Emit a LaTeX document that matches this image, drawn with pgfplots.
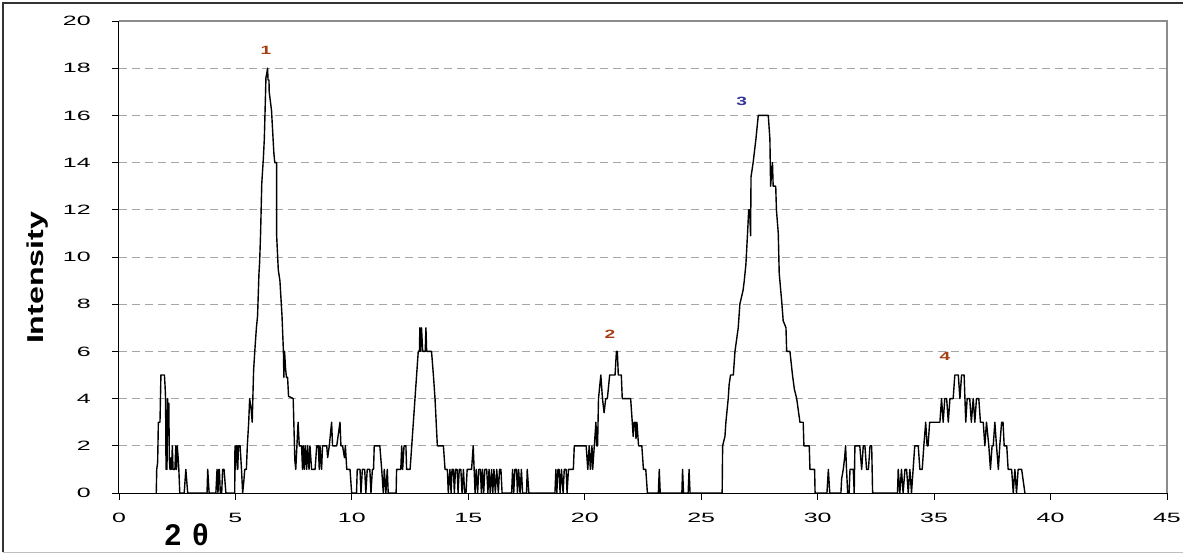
\documentclass[border=0pt]{standalone}
\usepackage{pgfplots}
\pgfplotsset{compat=1.18}
\usepackage{fontspec}
\setmainfont{Liberation Sans}
\definecolor{labred}{RGB}{168,62,20}
\definecolor{labblue}{RGB}{52,52,150}
\pgfplotstableread{
x y
1.60 0
1.62 1
1.66 1.3
1.69 3
1.76 3
1.80 5
1.95 5
1.98 4.5
2.00 4
2.02 1
2.04 3.5
2.06 1
2.09 4
2.12 3
2.14 3.8
2.16 1.5
2.19 1
2.21 1
2.24 1.5
2.26 1
2.29 2
2.32 1
2.36 1
2.40 1
2.44 2
2.47 1
2.50 2
2.54 1.5
2.57 1
2.61 0
2.80 0
2.87 1
2.95 0
3.78 0
3.81 1
3.87 0
4.16 0
4.21 1
4.25 0
4.29 1
4.31 1
4.35 0
4.41 0
4.45 1
4.51 1
4.59 0
4.97 0
4.98 2
5.01 1
5.03 2
5.08 2
5.10 1
5.13 2
5.20 2
5.26 1
5.31 0
5.36 0.5
5.40 1
5.47 1
5.51 2
5.57 3
5.61 4
5.68 3.5
5.72 3
5.78 5.2
5.83 6
5.90 7
5.95 7.5
6.01 9.3
6.04 9.8
6.08 11.0
6.13 13.1
6.20 14.2
6.24 15
6.27 16.1
6.31 17.6
6.35 17.8
6.38 18
6.40 17.5
6.44 17.5
6.45 17
6.55 16.2
6.65 14.4
6.69 14.0
6.77 14.0
6.77 10.9
6.84 9.45
6.91 9.0
7.00 7.5
7.06 6
7.08 4.9
7.11 6
7.15 5.3
7.19 4.9
7.24 4.9
7.28 4.1
7.48 4
7.55 1.4
7.59 1
7.69 3
7.74 2
7.84 2
7.88 1
7.92 2
7.96 1
8.00 2
8.06 1
8.10 2
8.16 1
8.20 2
8.27 1
8.42 1
8.49 2
8.56 2
8.60 1
8.63 2
8.70 1
8.74 2
8.92 2
8.96 1.5
9.03 2
9.13 3
9.17 2
9.35 2
9.42 2.5
9.49 3
9.53 2
9.60 2
9.68 1.5
9.72 2
9.78 1
9.92 1
9.99 0
10.20 0
10.23 1
10.35 1
10.39 0
10.45 1
10.55 1
10.60 0
10.66 1
10.77 1
10.82 0
10.88 1
10.93 1
10.96 2
11.20 2
11.28 1
11.35 0
11.39 1
11.46 0
11.52 1
11.56 0
11.90 0
11.92 1
12.10 1
12.14 2
12.18 1
12.24 2
12.32 2
12.35 1
12.50 1
12.57 2
12.64 3
12.71 4
12.78 5
12.85 6
12.90 6
12.92 7
12.95 6
12.99 7
13.04 6
13.15 6
13.18 7
13.21 6
13.42 6
13.50 5
13.57 4
13.62 3
13.67 2
13.93 2
14.00 1
14.10 1
14.14 0
14.21 1
14.26 0
14.30 1
14.36 1
14.40 0
14.45 1
14.52 1
14.56 0
14.61 1
14.68 1
14.73 0
14.79 1
14.84 0
14.90 0
14.95 1
15.07 1
15.14 1
15.21 2
15.25 1
15.29 0
15.34 1
15.40 0
15.45 1
15.52 1
15.56 0
15.61 1
15.66 0
15.71 1
15.79 1
15.84 0
15.89 1
15.94 0
16.00 1
16.05 0
16.10 1
16.16 0
16.22 1
16.29 0
16.34 1
16.40 1
16.45 0
16.86 0
16.90 1
16.95 0
17.00 1
17.07 1
17.11 0
17.16 1
17.22 0
17.28 1
17.33 0
17.50 0
17.53 1
17.60 0
18.72 0
18.76 1
18.80 0
18.85 1
18.90 1
18.94 0
19.00 1
19.07 0
19.12 1
19.20 1
19.24 0
19.30 1
19.40 1
19.51 1
19.55 2
20.06 2
20.13 1
20.19 2
20.24 1
20.31 2
20.34 1
20.41 2
20.48 3
20.51 2
20.55 2
20.59 4
20.69 5
20.76 4
20.83 3.4
20.90 4
20.97 4
21.07 5
21.30 5
21.36 6
21.40 6
21.44 5
21.57 5
21.61 4
21.97 4
22.04 3
22.08 2.4
22.12 3
22.17 3
22.20 2.3
22.24 3
22.31 2
22.45 2
22.52 1
22.62 1
22.69 0
23.16 0
23.20 1
23.24 0
24.17 0
24.20 1
24.24 0
24.44 0
24.48 1
24.52 0
25.90 0
25.92 2
26.02 2.4
26.06 3
26.16 4
26.20 4.6
26.26 5
26.38 5
26.45 6
26.52 6.5
26.59 7
26.66 8
26.80 8.6
26.85 9
26.92 9.7
26.99 11
27.04 12
27.08 12
27.12 10.9
27.14 13.4
27.23 14
27.35 15
27.45 16
27.88 16
27.95 15
27.98 13
28.06 14
28.09 13
28.20 13
28.23 12
28.31 11
28.35 9.3
28.45 8.2
28.52 7.3
28.64 7
28.67 6
28.81 6
28.92 5
29.00 4.4
29.10 4
29.24 3
29.38 3
29.41 2
29.64 2
29.67 1
29.87 1
29.89 0
30.40 0
30.46 1
30.52 0
31.00 0
31.03 0.6
31.10 1
31.16 1.5
31.20 2
31.24 1
31.29 0
31.35 0
31.39 1
31.53 1
31.57 0
31.60 2
31.81 2
31.89 1
31.96 2
32.03 2
32.10 1
32.18 1
32.25 2
32.32 2
32.36 0
33.43 0
33.46 1
33.53 0
33.60 1
33.67 0
33.75 1
33.82 1
33.89 0
33.96 1
34.03 0
34.10 1
34.17 2
34.32 2
34.39 1
34.49 1
34.56 2
34.64 3
34.70 2
34.74 2
34.81 3
35.25 3
35.32 4
35.39 3
35.46 4
35.54 4
35.61 3
35.68 4
35.82 4
35.89 5
36.04 5
36.11 4
36.18 5
36.29 5
36.36 3
36.42 4
36.53 4
36.60 3
36.68 4
36.75 3
36.82 4
36.92 4
36.99 3
37.11 3
37.18 2
37.25 3
37.35 2
37.42 1
37.49 2
37.54 2
37.61 3
37.68 2
37.76 1
37.82 2
37.90 3
37.96 3
38.01 2
38.12 2
38.18 1
38.33 1
38.40 0
38.47 1
38.54 0
38.61 1
38.76 1
38.90 0
}\xrd
\begin{document}
\begin{tikzpicture}
\begin{axis}[
  at={(0pt,0pt)}, anchor=south west,
  scale only axis, width=1048pt, height=472pt,
  xmin=0, xmax=45, ymin=0, ymax=20,
  axis x line*=bottom, axis y line*=left,
  axis line style={-, black, line width=1pt},
  xtick={0,5,...,45}, ytick={0,2,...,20},
  tick align=outside, major tick length=7pt,
  tick style={black, line width=0.8pt},
  ymajorgrids,
  major grid style={dash pattern=on 8pt off 5pt, color=black!35, line width=0.9pt},
  /pgf/number format/assume math mode=true,
  every tick label/.append style={font=\fontsize{13.5}{13.5}\selectfont, xscale=1.85},
  xticklabel style={yshift=-10pt},
  yticklabel style={xshift=-8pt},
  clip=false,
]
\addplot[black, line width=1.4pt, line join=round] table[x=x, y=y] {\xrd};
\draw[black!45, line width=1.4pt] (rel axis cs:0,1) -- (rel axis cs:1,1) -- (rel axis cs:1,0);
\node[labred, font=\bfseries\fontsize{12}{12}\selectfont, xscale=1.6] at (axis cs:6.31,18.77) {1};
\node[labred, font=\bfseries\fontsize{12}{12}\selectfont, xscale=1.6] at (axis cs:21.08,6.74) {2};
\node[labblue, font=\bfseries\fontsize{12}{12}\selectfont, xscale=1.6] at (axis cs:26.74,16.58) {3};
\node[labred, font=\bfseries\fontsize{12}{12}\selectfont, xscale=1.6] at (axis cs:35.47,5.78) {4};
\node[rotate=90, xscale=1.4, font=\bfseries\fontsize{23}{23}\selectfont] at (rel axis cs:-0.0775,0.456) {Intensity};
\node[font=\bfseries\fontsize{30}{30}\selectfont, inner sep=0pt] at (rel axis cs:0.0645,-0.088) {2\kern 11pt θ};
\end{axis}
\draw[black!80, line width=1.2pt] (-116pt,-59pt) -- (-116pt,490pt) -- (1066pt,490pt);
\draw[black!25, line width=1pt] (-116pt,-59pt) -- (1066pt,-59pt);
\pgfresetboundingbox
\path (-119pt,-61pt) rectangle (1064pt,493pt);
\end{tikzpicture}
\end{document}
